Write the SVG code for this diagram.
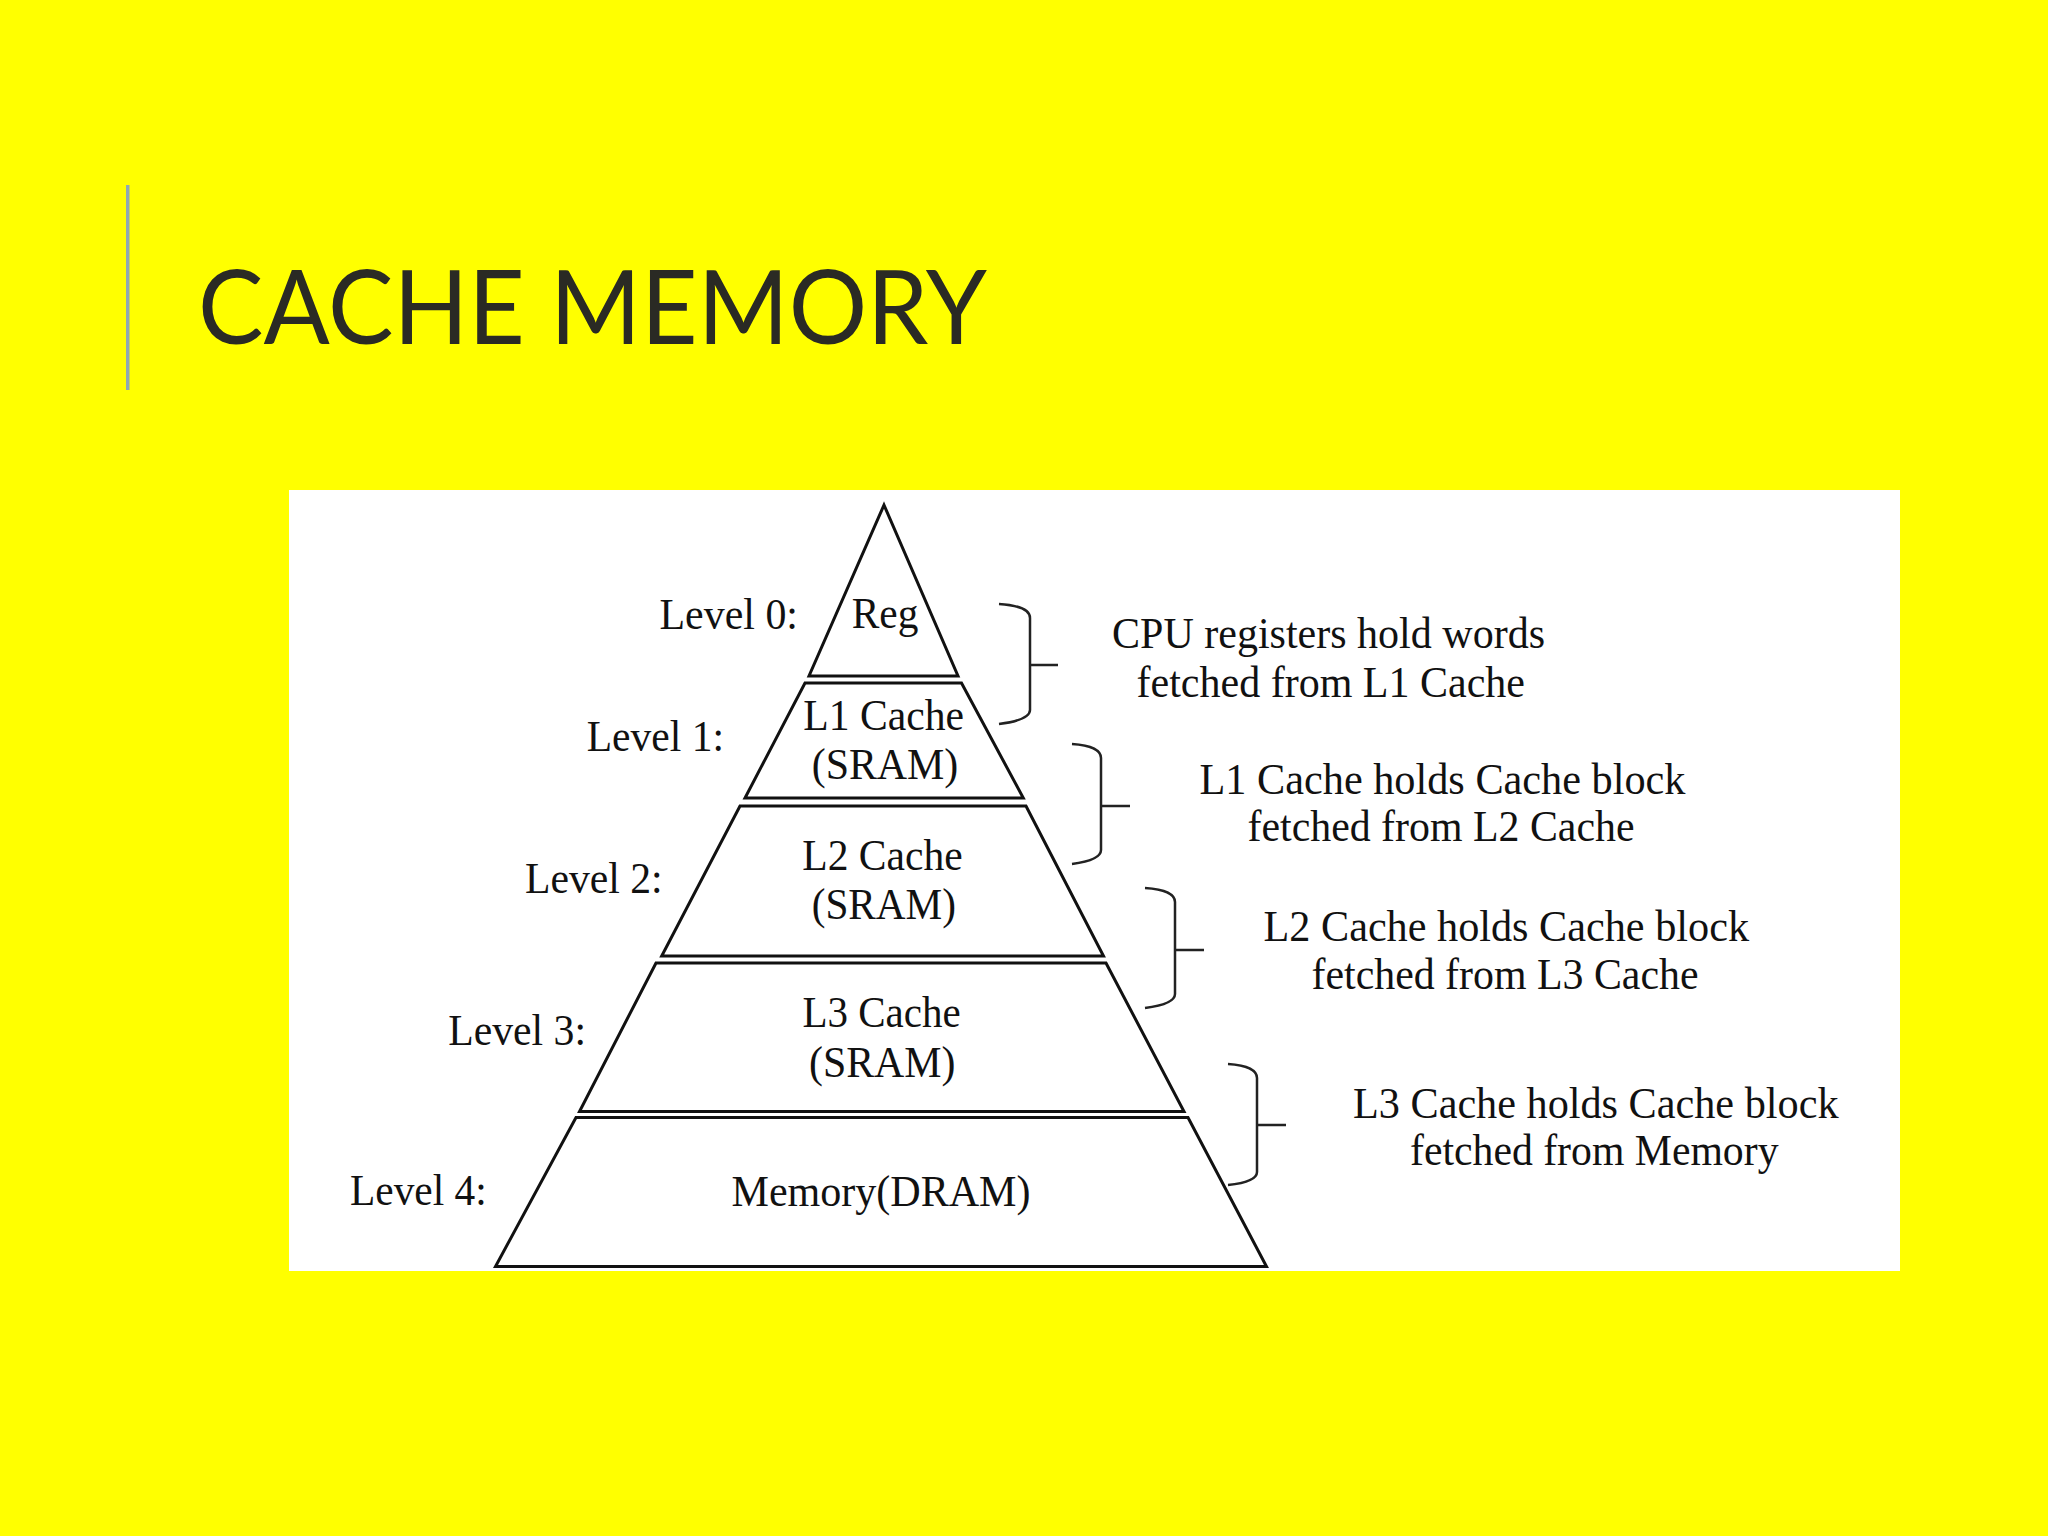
<svg xmlns="http://www.w3.org/2000/svg" width="2048" height="1536" viewBox="0 0 2048 1536">
<style>
.t{font-family:"Liberation Serif","Times New Roman",serif;font-size:44px;fill:#111}
.tier{fill:#fff;stroke:#111;stroke-width:3;stroke-linejoin:miter}
.brace{fill:none;stroke:#222;stroke-width:2.5}
.title{font-family:Lato,"Open Sans","Liberation Sans",sans-serif;font-size:102px;fill:#2a2a24}
</style>
<rect x="0" y="0" width="2048" height="1536" fill="#ffff00"/>
<rect x="126" y="185" width="3.5" height="205" fill="#8fa8b4"/>
<text class="title" x="198" y="344" textLength="789" lengthAdjust="spacingAndGlyphs">CACHE MEMORY</text>
<rect x="289" y="490" width="1611" height="781" fill="#ffffff"/>

<g id="level0">
<polygon class="tier" points="884,505 958,676 809,676"/>
<text class="t" x="851.7" y="628.3" textLength="66.7" lengthAdjust="spacingAndGlyphs">Reg</text>
<text class="t" x="659.5" y="629" textLength="138.5" lengthAdjust="spacingAndGlyphs">Level 0:</text>
</g>
<g id="level1">
<polygon class="tier" points="805,683 961.5,683 1023.3,798 745,798"/>
<text class="t" x="803.3" y="730" textLength="160.7" lengthAdjust="spacingAndGlyphs">L1 Cache</text>
<text class="t" x="811.7" y="779.3" textLength="146.6" lengthAdjust="spacingAndGlyphs">(SRAM)</text>
<text class="t" x="586.7" y="750.5" textLength="137.3" lengthAdjust="spacingAndGlyphs">Level 1:</text>
</g>
<g id="level2">
<polygon class="tier" points="740,806 1026,806 1103.5,956 661.7,956"/>
<text class="t" x="802.3" y="870" textLength="160.4" lengthAdjust="spacingAndGlyphs">L2 Cache</text>
<text class="t" x="811.7" y="919.3" textLength="144.3" lengthAdjust="spacingAndGlyphs">(SRAM)</text>
<text class="t" x="525" y="893" textLength="137.7" lengthAdjust="spacingAndGlyphs">Level 2:</text>
</g>
<g id="level3">
<polygon class="tier" points="656,963 1106,963 1184,1111.5 579.5,1111.5"/>
<text class="t" x="802.4" y="1027.3" textLength="158.2" lengthAdjust="spacingAndGlyphs">L3 Cache</text>
<text class="t" x="809" y="1076.7" textLength="146.5" lengthAdjust="spacingAndGlyphs">(SRAM)</text>
<text class="t" x="448.3" y="1044.5" textLength="137.7" lengthAdjust="spacingAndGlyphs">Level 3:</text>
</g>
<g id="level4">
<polygon class="tier" points="576,1117.5 1188,1117.5 1266.5,1266.5 495.5,1266.5"/>
<text class="t" x="731.5" y="1206" textLength="299" lengthAdjust="spacingAndGlyphs">Memory(DRAM)</text>
<text class="t" x="350" y="1204.5" textLength="136.7" lengthAdjust="spacingAndGlyphs">Level 4:</text>
</g>

<g id="connectors">
<path class="brace" d="M999,604 Q1030,606 1030,618 L1030,710 Q1030,720 999,724 M1030,665 L1058,665"/>
<path class="brace" d="M1072,744 Q1101,746 1101,758 L1101,850 Q1101,860 1072,864 M1101,806 L1130,806"/>
<path class="brace" d="M1145,888 Q1175,890 1175,902 L1175,994 Q1175,1004 1145,1008 M1175,950 L1204,950"/>
<path class="brace" d="M1228,1064 Q1257,1066 1257,1078 L1257,1172 Q1257,1182 1228,1185 M1257,1125 L1286,1125"/>
</g>

<g id="desc0">
<text class="t" x="1112" y="648" textLength="433" lengthAdjust="spacingAndGlyphs">CPU registers hold words</text>
<text class="t" x="1136.5" y="697" textLength="388.5" lengthAdjust="spacingAndGlyphs">fetched from L1 Cache</text>
</g>
<g id="desc1">
<text class="t" x="1199.5" y="794" textLength="486" lengthAdjust="spacingAndGlyphs">L1 Cache holds Cache block</text>
<text class="t" x="1247.5" y="841" textLength="387" lengthAdjust="spacingAndGlyphs">fetched from L2 Cache</text>
</g>
<g id="desc2">
<text class="t" x="1263.5" y="941" textLength="485.5" lengthAdjust="spacingAndGlyphs">L2 Cache holds Cache block</text>
<text class="t" x="1311.5" y="989" textLength="387" lengthAdjust="spacingAndGlyphs">fetched from L3 Cache</text>
</g>
<g id="desc3">
<text class="t" x="1353" y="1118" textLength="485.5" lengthAdjust="spacingAndGlyphs">L3 Cache holds Cache block</text>
<text class="t" x="1410" y="1165" textLength="368.5" lengthAdjust="spacingAndGlyphs">fetched from Memory</text>
</g>
</svg>
